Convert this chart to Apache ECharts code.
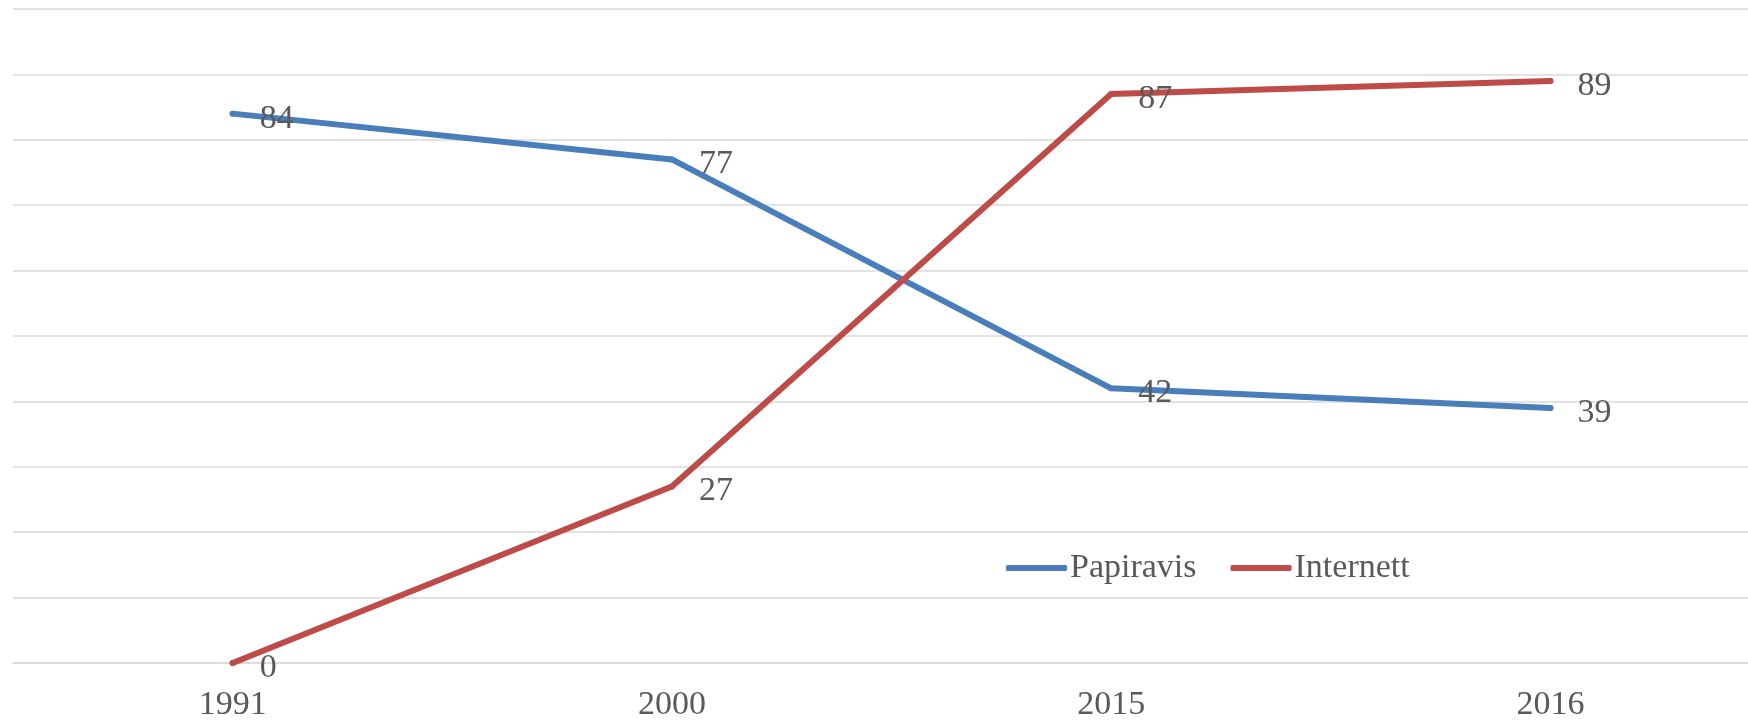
<!DOCTYPE html>
<html>
<head>
<meta charset="utf-8">
<script src="https://cdn.jsdelivr.net/npm/echarts@6/dist/echarts.min.js"></script>
<style>
  html, body { margin: 0; padding: 0; background: #fff; overflow: hidden; }
  /* the original chart is cut off on the right, so the canvas is a bit wider than the window */
  #chart { width: 1770px; height: 723px; }
</style>
</head>
<body>
<div id="chart"></div>
<script>
const years = ['1991', '2000', '2015', '2016'];
const papiravis = [84, 77, 42, 39];
const internett = [0, 27, 87, 89];

const textColor = '#595959';
const fontFamily = '"Liberation Serif", "Times New Roman", serif';

const chart = echarts.init(document.getElementById('chart'));

// symbols are the same size/colour as the line so they vanish into it, but they carry the labels
const lineSeries = (name, data, color) => ({
  name: name,
  type: 'line',
  data: data,
  symbol: 'circle',
  symbolSize: 6,
  showSymbol: true,
  lineStyle: { color: color, width: 6, cap: 'round', join: 'round' },
  itemStyle: { color: color, borderWidth: 0 },
  label: {
    show: true,
    position: 'right',
    distance: 24,
    offset: [0, 5],
    color: textColor,
    fontFamily: fontFamily,
    fontSize: 34
  },
  emphasis: { disabled: true }
});

chart.setOption({
  animation: false,
  grid: { left: 13, right: 0, top: 9, bottom: 60 },
  legend: {
    left: 1001,
    top: 546,
    icon: 'roundRect',
    itemWidth: 61,
    itemHeight: 6,
    itemGap: 34,
    textStyle: { color: textColor, fontFamily: fontFamily, fontSize: 34, padding: [0, 0, 0, -2] },
    data: ['Papiravis', 'Internett']
  },
  xAxis: {
    type: 'category',
    data: years,
    boundaryGap: true,
    axisLine: { lineStyle: { color: '#d9d9d9', width: 1.5 } },
    axisTick: { show: false },
    axisLabel: { color: textColor, fontFamily: fontFamily, fontSize: 34, margin: 25 }
  },
  yAxis: {
    type: 'value',
    min: 0,
    max: 100,
    interval: 10,
    axisLine: { show: false },
    axisTick: { show: false },
    axisLabel: { show: false },
    splitLine: { lineStyle: { color: '#d9d9d9', width: 1.5 } }
  },
  series: [
    lineSeries('Papiravis', papiravis, '#4a7ebb'),
    lineSeries('Internett', internett, '#be4b48')
  ]
});
</script>
</body>
</html>
